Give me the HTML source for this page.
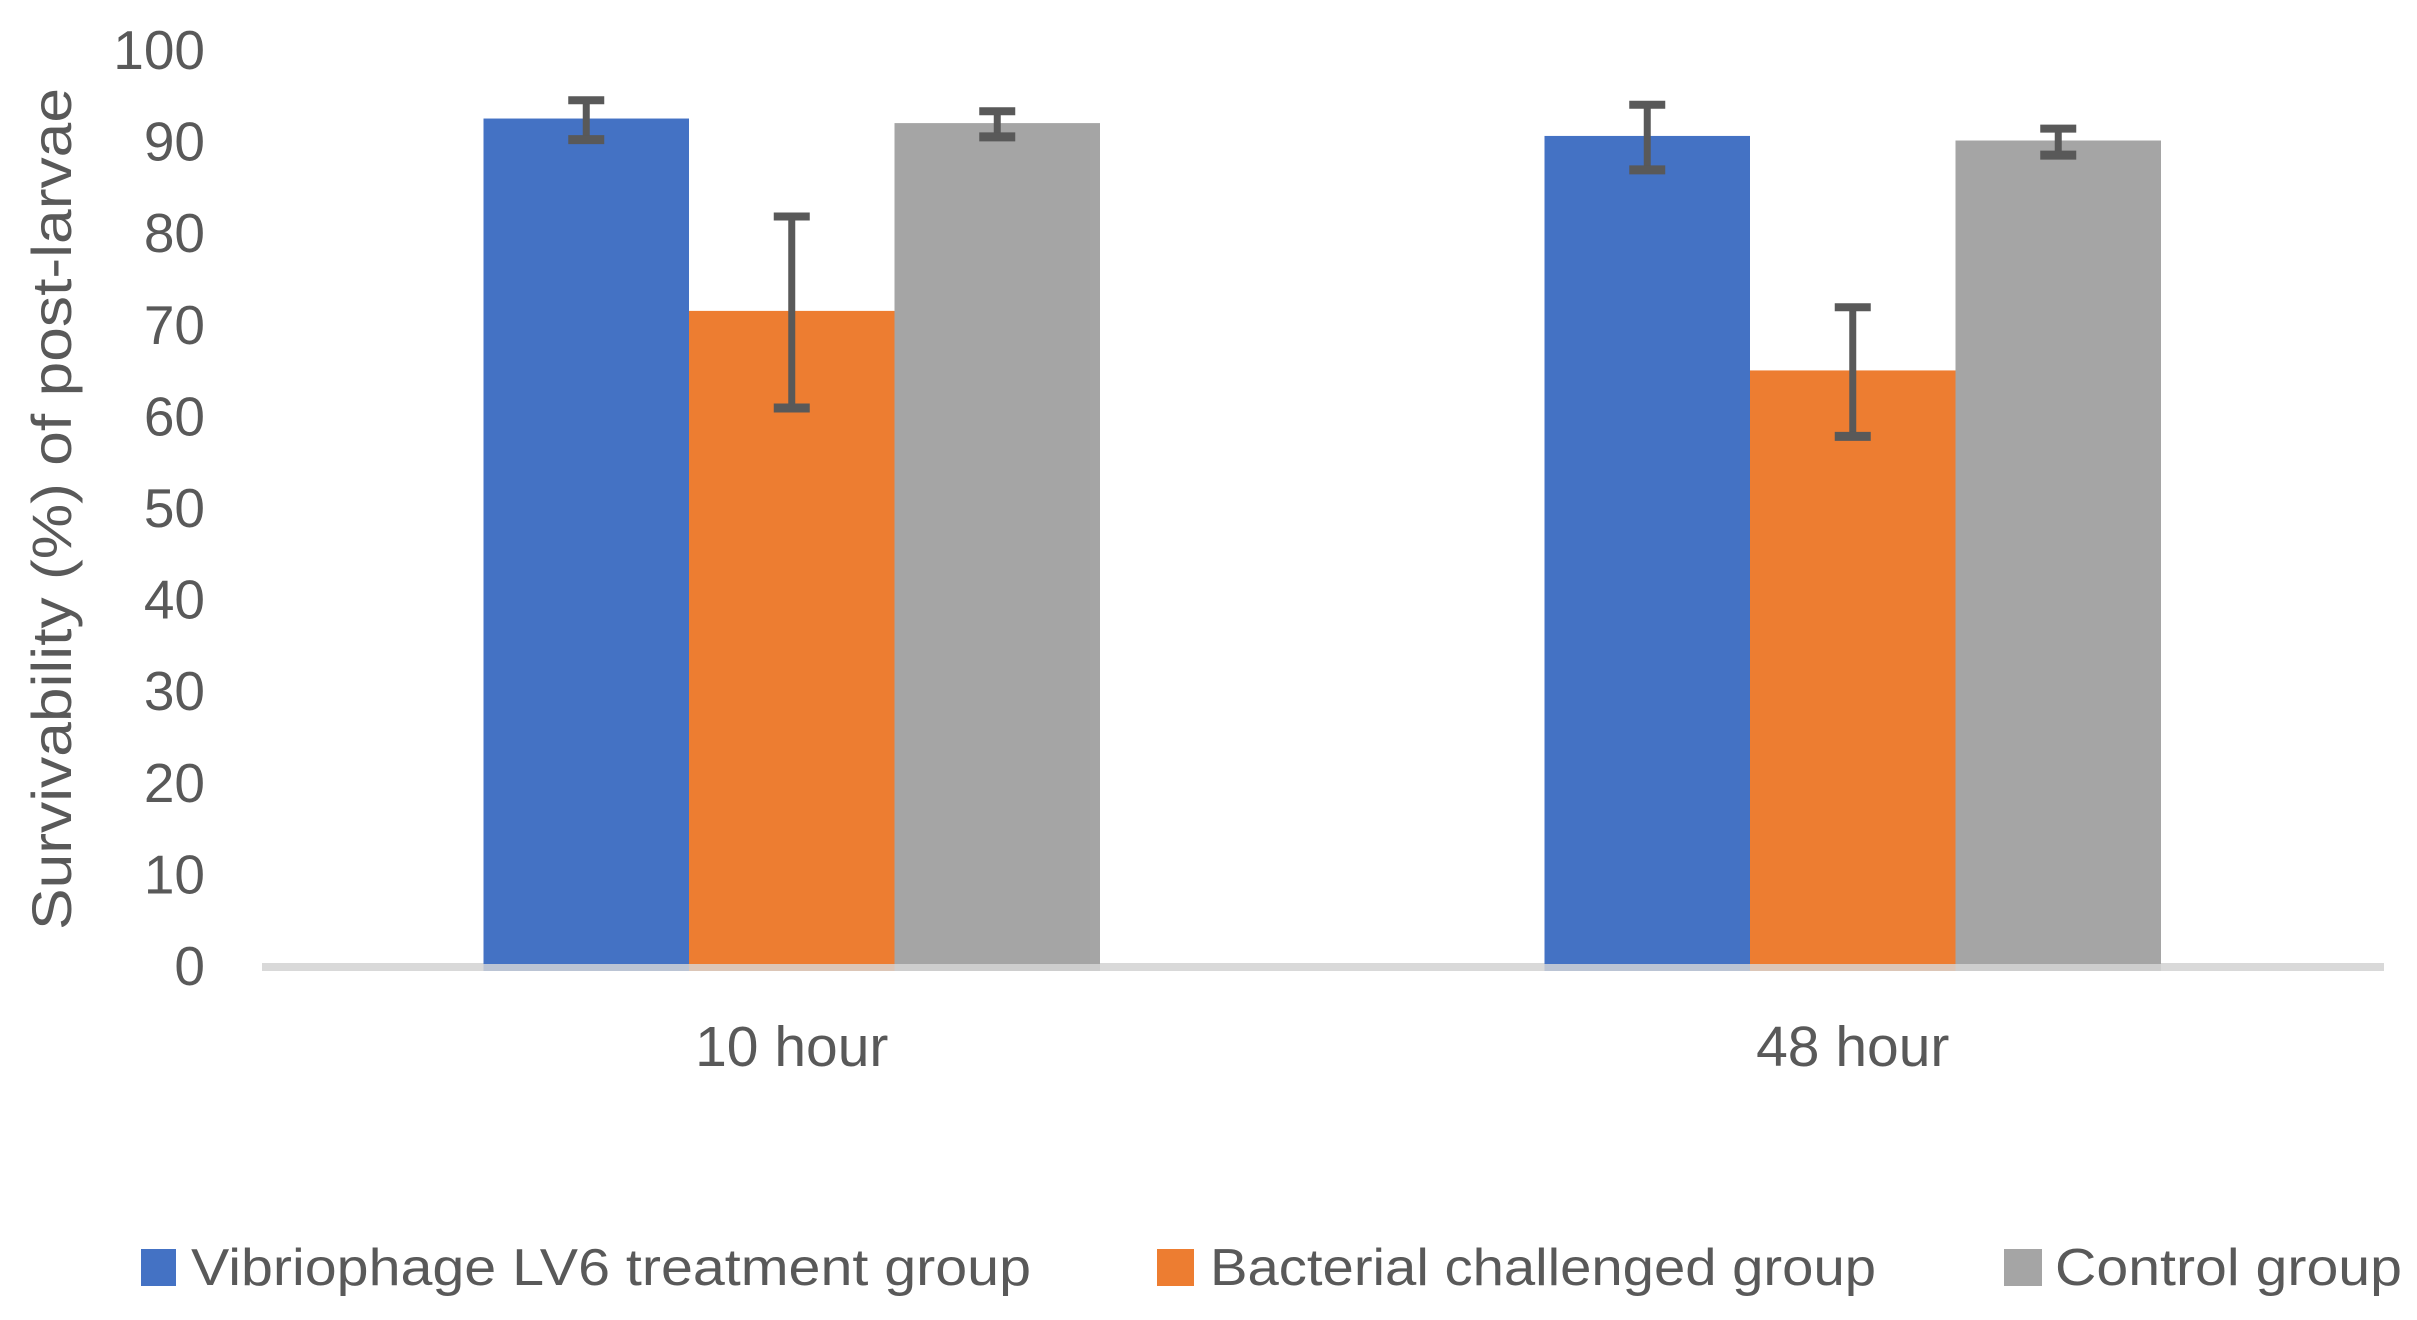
<!DOCTYPE html>
<html lang="en">
<head>
<meta charset="utf-8">
<title>Survivability of post-larvae</title>
<style>
  html, body { margin: 0; padding: 0; background: #ffffff; }
  body { width: 2417px; height: 1320px; overflow: hidden; }
  svg { display: block; }
  text { font-family: "Liberation Sans", sans-serif; fill: #595959; }
</style>
</head>
<body>
<svg id="chart" xmlns="http://www.w3.org/2000/svg" width="2417" height="1320" viewBox="0 0 2417 1320">
  <rect x="0" y="0" width="2417" height="1320" fill="#ffffff"></rect>
  <g id="plot"></g>
  <text transform="translate(71 930) rotate(-90)" font-size="56" textLength="842" lengthAdjust="spacingAndGlyphs">Survivability (%) of post-larvae</text>
  <g>
    <g>
      <rect x="141" y="1249" width="35" height="37" fill="#4472C4"></rect>
      <text x="191" y="1285" font-size="52" textLength="840" lengthAdjust="spacingAndGlyphs">Vibriophage LV6 treatment group</text>
    </g>
    <g>
      <rect x="1157" y="1249" width="37" height="37" fill="#ED7D31"></rect>
      <text x="1210" y="1285" font-size="52" textLength="666" lengthAdjust="spacingAndGlyphs">Bacterial challenged group</text>
    </g>
    <g>
      <rect x="2004" y="1249" width="38" height="37" fill="#A5A5A5"></rect>
      <text x="2055" y="1285" font-size="52" textLength="347" lengthAdjust="spacingAndGlyphs">Control group</text>
    </g>
  </g>
</svg>
<script>
const categories = ["10 hour", "48 hour"];
const yTicks = [0, 10, 20, 30, 40, 50, 60, 70, 80, 90, 100];
const treatmentValues = [92.3, 90.4];
const treatmentLow = [90.0, 86.7];
const treatmentHigh = [94.3, 93.8];
const challengedValues = [71.3, 64.8];
const challengedLow = [60.7, 57.6];
const challengedHigh = [81.6, 71.7];
const controlValues = [91.8, 89.9];
const controlLow = [90.3, 88.3];
const controlHigh = [93.1, 91.2];

const SVG_NS = "http://www.w3.org/2000/svg";
const plot = document.getElementById("plot");
const axisLeft = 262;
const axisRight = 2384;
const baselineY = 964;
const pxPerUnit = 9.16;
const barWidth = 205.5;
const capWidth = 36;
const errorColor = "#595959";

function yScale(v) {
  return baselineY - v * pxPerUnit;
}
function categoryCenter(i) {
  return axisLeft + (axisRight - axisLeft) * (i + 0.5) / categories.length - 0.75;
}
function barLeft(i, s) {
  return categoryCenter(i) + (s - 1.5) * barWidth;
}
function make(tag, attrs, text) {
  const el = document.createElementNS(SVG_NS, tag);
  Object.keys(attrs).forEach(function (k) { el.setAttribute(k, attrs[k]); });
  if (text !== undefined) el.textContent = text;
  plot.appendChild(el);
  return el;
}

yTicks.forEach(function (t) {
  const label = make("text", { x: 205, y: yScale(t) + 21, "text-anchor": "end", "font-size": 55 }, String(t));
  
  
});

const axisLine = make("rect", { x: axisLeft, y: baselineY - 1, width: axisRight - axisLeft, height: 8, fill: "#D9D9D9" });



categories.forEach(function (c, i) {
  const label = make("text", { x: categoryCenter(i), y: 1066, "text-anchor": "middle", "font-size": 57 }, c);
  
  
});

function drawSeries(values, lows, highs, s, color, barName, errorName) {
  values.forEach(function (v, i) {
    const top = yScale(v);
    const bar = make("rect", { x: barLeft(i, s), y: top, width: barWidth, height: baselineY - top, fill: color });
    
    
    const tint = make("rect", { x: barLeft(i, s), y: baselineY, width: barWidth, height: 7, fill: color, "fill-opacity": 0.2 });
    
    
  });
  values.forEach(function (v, i) {
    const cx = barLeft(i, s) + barWidth / 2;
    const yHigh = yScale(highs[i]);
    const yLow = yScale(lows[i]);
    const stem = make("line", { x1: cx, x2: cx, y1: yHigh, y2: yLow, stroke: errorColor, "stroke-width": 7 });
    
    
    const capTop = make("line", { x1: cx - capWidth / 2, x2: cx + capWidth / 2, y1: yHigh, y2: yHigh, stroke: errorColor, "stroke-width": 8 });
    
    
    const capLow = make("line", { x1: cx - capWidth / 2, x2: cx + capWidth / 2, y1: yLow, y2: yLow, stroke: errorColor, "stroke-width": 9 });
    
    
  });
}

drawSeries(treatmentValues, treatmentLow, treatmentHigh, 0, "#4472C4", "bar-treatment", "error-bar-treatment");
drawSeries(challengedValues, challengedLow, challengedHigh, 1, "#ED7D31", "bar-challenged", "error-bar-challenged");
drawSeries(controlValues, controlLow, controlHigh, 2, "#A5A5A5", "bar-control", "error-bar-control");
</script>
</body>
</html>
